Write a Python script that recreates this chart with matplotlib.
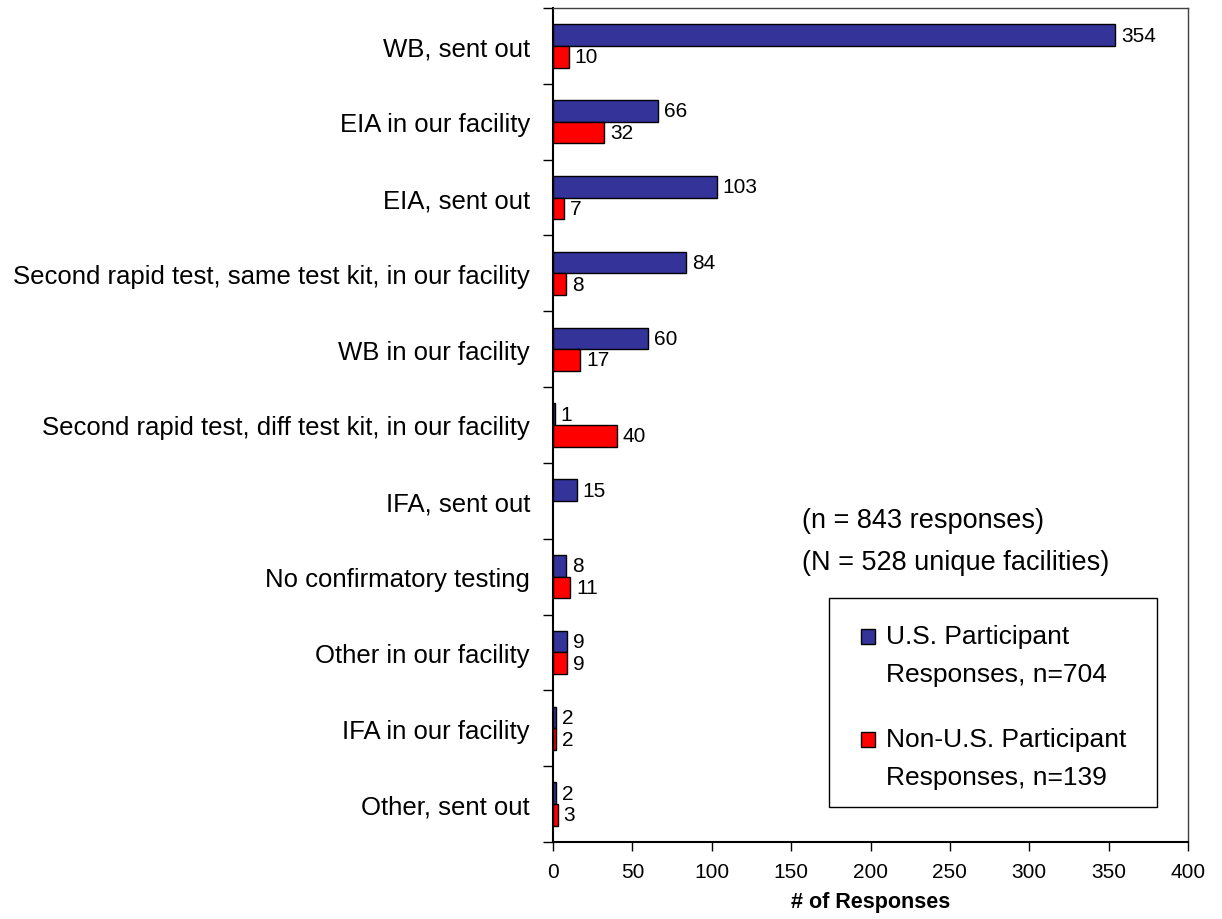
import matplotlib
matplotlib.use("Agg")
import matplotlib.pyplot as plt
import numpy as np
from matplotlib.patches import Rectangle

plt.rcParams['font.family'] = ['Liberation Sans', 'DejaVu Sans']

categories = [
    "WB, sent out",
    "EIA in our facility",
    "EIA, sent out",
    "Second rapid test, same test kit, in our facility",
    "WB in our facility",
    "Second rapid test, diff test kit, in our facility",
    "IFA, sent out",
    "No confirmatory testing",
    "Other in our facility",
    "IFA in our facility",
    "Other, sent out",
]
us_values = [354, 66, 103, 84, 60, 1, 15, 8, 9, 2, 2]
non_us_values = [10, 32, 7, 8, 17, 40, None, 11, 9, 2, 3]

legend_labels = ["U.S. Participant\nResponses, n=704",
                 "Non-U.S. Participant\nResponses, n=139"]
notes = ["(n = 843 responses)", "(N = 528 unique facilities)"]

blue = "#333399"
red = "#FF0000"

W, H = 1222, 920
fig = plt.figure(figsize=(W/100, H/100), dpi=100)
ax = fig.add_axes([553/W, 1-843/H, (1188-553)/W, (843-9)/H])

def fx(px):
    return px / W

def fy(py):
    return 1 - py / H

y = np.arange(len(categories))
h = 0.285
us_plot = [v if v is not None else 0 for v in us_values]
ax.barh(y - h/2, us_plot, height=h, color=blue, edgecolor="black", linewidth=1)
for yi, v in zip(y, non_us_values):
    if v is not None:
        ax.barh(yi + h/2, v, height=h, color=red, edgecolor="black", linewidth=1)

for yi, v in zip(y, us_values):
    if v is not None:
        ax.annotate(str(v), (v, yi - h/2), xytext=(4.3, 0), textcoords="offset points",
                    va="center", ha="left", fontsize=15)
for yi, v in zip(y, non_us_values):
    if v is not None:
        ax.annotate(str(v), (v, yi + h/2), xytext=(4.3, 0), textcoords="offset points",
                    va="center", ha="left", fontsize=15)

ax.set_xlim(0, 400)
ax.set_ylim(len(categories) - 0.5, -0.5)
ax.set_xticks(np.arange(0, 401, 50))
ax.tick_params(axis="x", length=6.5, direction="out", width=1, pad=8, labelsize=15)
ax.set_yticks(y)
ax.set_yticklabels(categories, fontsize=18.5)
ax.tick_params(axis="y", which="major", length=0, pad=16.6)
ax.set_yticks(np.arange(-0.5, len(categories) + 0.5, 1), minor=True)
ax.tick_params(axis="y", which="minor", length=7, width=1, direction="out")
ax.set_xlabel("# of Responses", fontsize=15.5, fontweight="bold", labelpad=7)

for s in ["left", "bottom"]:
    ax.spines[s].set_linewidth(1.5)
    ax.spines[s].set_color("black")
for s in ["top", "right"]:
    ax.spines[s].set_linewidth(1)
    ax.spines[s].set_color("#404040")

fig.text(fx(802), fy(521), notes[0], fontsize=19.5, va="center", ha="left")
fig.text(fx(802), fy(563), notes[1], fontsize=19.5, va="center", ha="left")

# legend box
fig.add_artist(Rectangle((fx(829), fy(808)), fx(1157) - fx(829), fy(599) - fy(808),
                         transform=fig.transFigure, facecolor="white",
                         edgecolor="black", linewidth=1))
colors = [blue, red]
first_line_y = [637, 740]
for lab, col, ly in zip(legend_labels, colors, first_line_y):
    fig.add_artist(Rectangle((fx(861), fy(ly + 7.5)), fx(14), 15/H,
                             transform=fig.transFigure, facecolor=col,
                             edgecolor="black", linewidth=1))
    l1, l2 = lab.split("\n")
    fig.text(fx(886), fy(ly), l1, fontsize=19, va="center", ha="left")
    fig.text(fx(886), fy(ly + 38), l2, fontsize=19, va="center", ha="left")

fig.savefig("out.png", dpi=100)
